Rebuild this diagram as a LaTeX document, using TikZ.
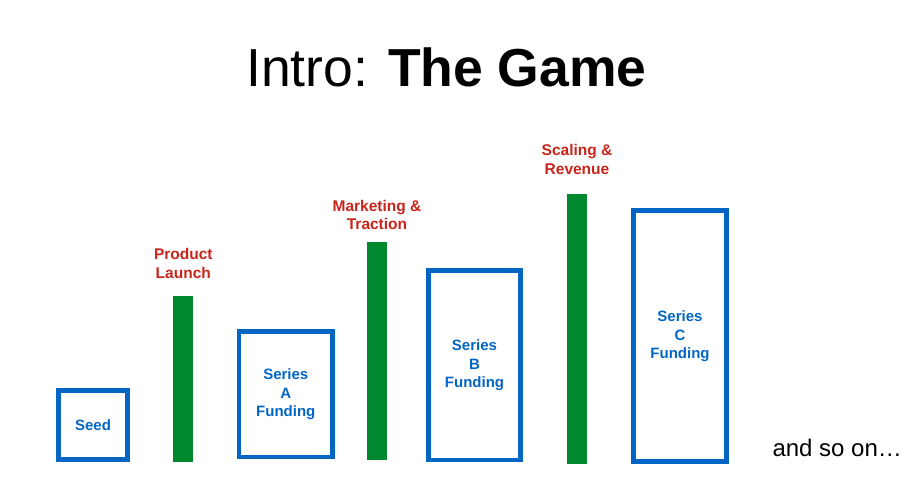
\documentclass[tikz,border=0pt]{standalone}
\usepackage{fontspec}
\setmainfont{Liberation Sans}
\usetikzlibrary{positioning}
\definecolor{fundblue}{RGB}{4,102,196}
\definecolor{stepgreen}{RGB}{0,136,46}
\definecolor{stepred}{RGB}{200,36,26}
\tikzset{
  fund/.style={draw=fundblue, line width=4.6pt, text=fundblue, align=center,
    font=\fontsize{15}{18.5}\selectfont\bfseries, inner sep=0pt},
  bar/.style={fill=stepgreen, minimum width=20pt, inner sep=0pt},
  stage/.style={text=stepred, align=center, inner sep=0pt,
    font=\fontsize{15.5}{18.5}\selectfont\bfseries}
}
\begin{document}
\begin{tikzpicture}[x=1pt,y=-1pt]
      \useasboundingbox (0,0) rectangle (918,502);
      \node[anchor=base, font=\fontsize{53.5}{60}\selectfont] (title) at (446.5,87)
        {Intro: \textbf{The Game}};
      \draw
        (93,425) node[fund, minimum width=69.4pt, minimum height=69.4pt] (seed){Seed}
        (285.8,394.2) node[fund, minimum width=93.7pt, minimum height=125.7pt] (sa){Series\\A\\Funding}
        (474.5,365.2) node[fund, minimum width=92.4pt, minimum height=189.7pt] (sb){Series\\B\\Funding}
        (680,336.2) node[fund, minimum width=93.4pt, minimum height=251pt] (sc){Series\\C\\Funding};
      \begin{scope}
        \node[bar, minimum height=165.7pt] (launch) at (183.3,378.8) {};
        \node[bar, minimum height=217.7pt] (traction) at (377,351.2) {};
        \node[bar, minimum height=270pt] (revenue) at (577,329) {};
      \end{scope}
      \node[stage, above=17pt of launch] (l1) {Product\\Launch};
      \node[stage, above=12pt of traction] (l2) {Marketing \&\\Traction};
      \node[stage, above=19pt of revenue] (l3) {Scaling \&\\Revenue};
      \node[anchor=base west, font=\fontsize{24}{27}\selectfont] (more) at (769,456.5) {and so on\ldots};
    \end{tikzpicture}
\end{document}
